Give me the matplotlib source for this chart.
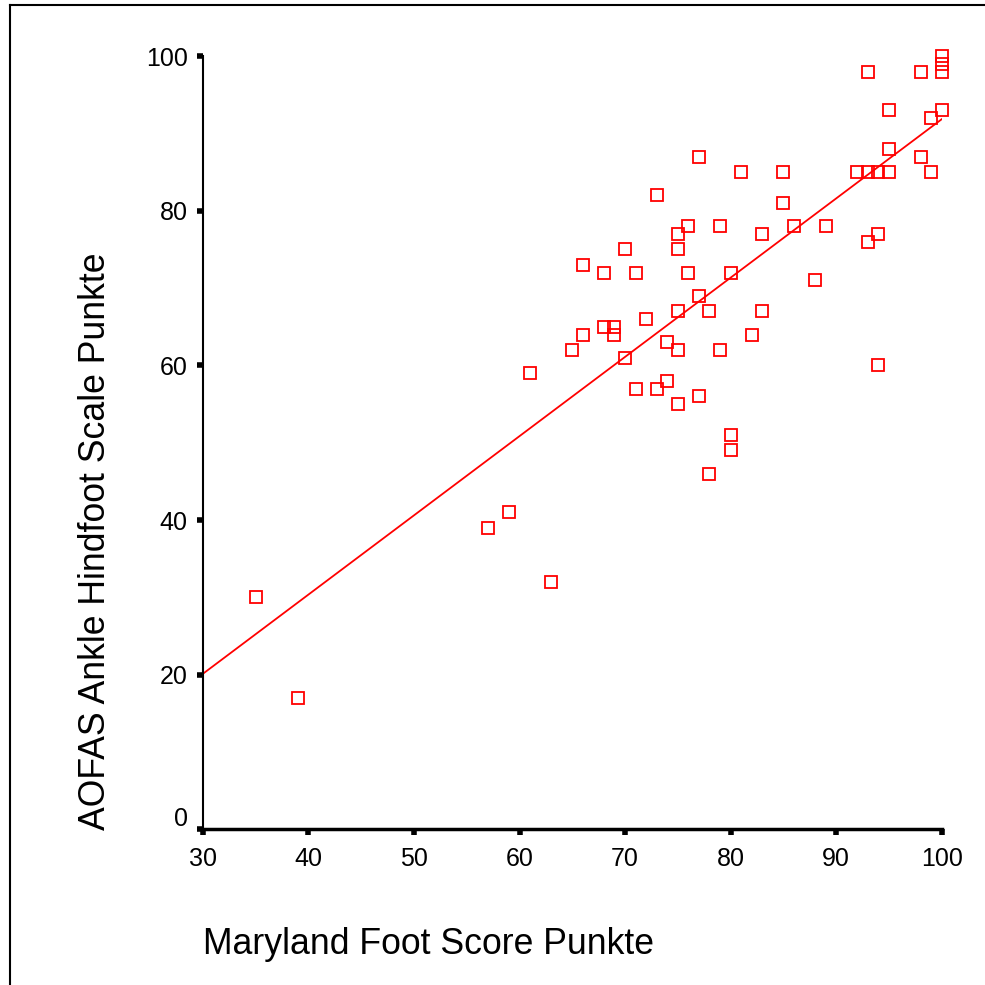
import numpy as np
import matplotlib
matplotlib.use('Agg')
import matplotlib.pyplot as plt
from matplotlib.lines import Line2D
from matplotlib.transforms import ScaledTranslation

# Maryland Foot Score vs AOFAS score
maryland = [35, 39, 57, 59, 63, 61, 65, 66, 66, 68, 68, 69, 69, 70, 70, 71, 71, 72,
            73, 73, 74, 74, 75, 75, 75, 75, 75, 76, 76, 77, 77, 77, 78, 78, 79, 79,
            80, 80, 80, 81, 82, 83, 83, 85, 85, 86, 88, 89, 92, 93, 93, 93, 94, 94,
            94, 95, 95, 95, 98, 98, 99, 99, 100, 100, 100, 100]
aofas = [30, 17, 39, 41, 32, 59, 62, 73, 64, 72, 65, 65, 64, 75, 61, 72, 57, 66,
         82, 57, 63, 58, 77, 75, 67, 62, 55, 78, 72, 87, 69, 56, 67, 46, 78, 62,
         72, 51, 49, 85, 64, 77, 67, 85, 81, 78, 71, 78, 85, 85, 98, 76, 85, 77,
         60, 88, 93, 85, 98, 87, 92, 85, 100, 99, 98, 93]

x_ticks = [30, 40, 50, 60, 70, 80, 90, 100]
y_ticks = [0, 20, 40, 60, 80, 100]

plt.rcParams['font.family'] = ['Liberation Sans', 'DejaVu Sans']

fig = plt.figure(figsize=(9.85, 9.85), dpi=100)
ax = fig.add_axes([0.206, 0.158, 0.75, 0.785])

red = '#ff0000'
ax.plot(maryland, aofas, linestyle='none', marker='s', markersize=8.3,
        markerfacecolor='none', markeredgecolor=red, markeredgewidth=1.3,
        clip_on=False)

# linear fit across the x range
slope, intercept = np.polyfit(maryland, aofas, 1)
xs = np.array([30, 100])
ax.plot(xs, slope * xs + intercept, color=red, linewidth=1.3)

ax.set_xlim(30, 100)
ax.set_ylim(0, 100)
ax.set_xticks(x_ticks)
ax.set_yticks(y_ticks)
ax.tick_params(axis='both', labelsize=18, direction='out', length=4, width=4,
               color='black')
ax.tick_params(axis='x', pad=9)
ax.tick_params(axis='y', pad=7)

# the "0" label sits a little above its tick
zero_lab = ax.get_yticklabels()[0]
zero_lab.set_transform(zero_lab.get_transform()
                       + ScaledTranslation(0, 0.13, fig.dpi_scale_trans))

for side in ['top', 'right']:
    ax.spines[side].set_visible(False)
ax.spines['left'].set_linewidth(1.5)
ax.spines['bottom'].set_linewidth(2.5)

fig.text(0.206, 1 - 945 / 985, 'Maryland Foot Score Punkte', fontsize=25.7,
         ha='left', va='center')
fig.text(0.097, 1 - 830 / 985, 'AOFAS Ankle Hindfoot Scale Punkte', fontsize=25.7,
         rotation=90, ha='center', va='bottom')

# outer frame (top and left edges visible)
fig.add_artist(Line2D([10 / 985, 1], [1 - 5 / 985, 1 - 5 / 985], color='black',
                      linewidth=1.5, transform=fig.transFigure))
fig.add_artist(Line2D([10 / 985, 10 / 985], [0, 1 - 5 / 985], color='black',
                      linewidth=1.5, transform=fig.transFigure))

fig.savefig('out.png', dpi=100, facecolor='white')
